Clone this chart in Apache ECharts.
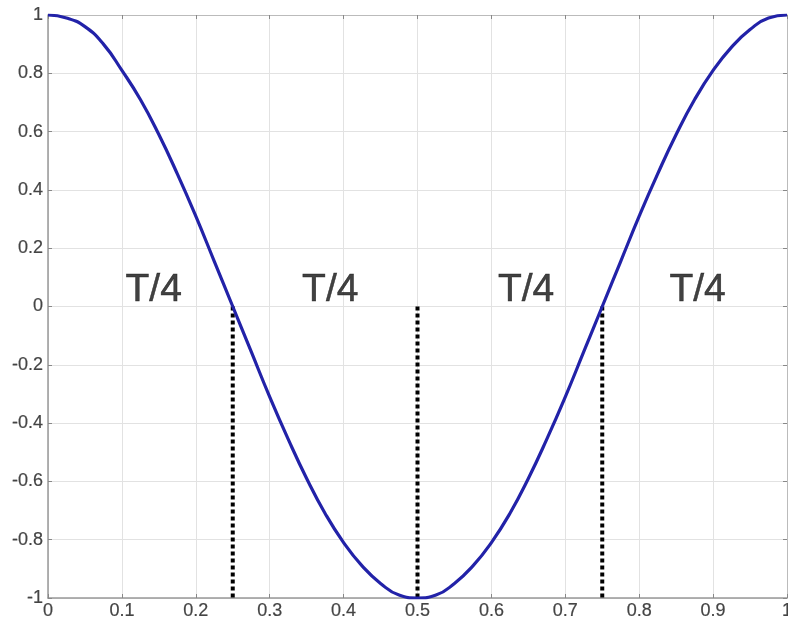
<!DOCTYPE html>
<html>
<head>
<meta charset="utf-8">
<style>
  html, body { margin: 0; padding: 0; background: #fff; }
  #chart { width: 788px; height: 623px; }
</style>
<script src="https://cdn.jsdelivr.net/npm/echarts@6/dist/echarts.min.js"></script>
</head>
<body>
<div id="chart"></div>
<script>
var xs = [0, 0.025, 0.05, 0.075, 0.1, 0.125, 0.15, 0.175, 0.2, 0.225, 0.25,
          0.275, 0.3, 0.325, 0.35, 0.375, 0.4, 0.425, 0.45, 0.475, 0.5,
          0.525, 0.55, 0.575, 0.6, 0.625, 0.65, 0.675, 0.7, 0.725, 0.75,
          0.775, 0.8, 0.825, 0.85, 0.875, 0.9, 0.925, 0.95, 0.975, 1];
var ys = [1, 0.99, 0.96, 0.9, 0.81, 0.71, 0.59, 0.455, 0.31, 0.155, 0,
          -0.155, -0.31, -0.455, -0.59, -0.71, -0.81, -0.89, -0.95, -0.99, -1,
          -0.99, -0.95, -0.89, -0.81, -0.71, -0.59, -0.455, -0.31, -0.155, 0,
          0.155, 0.31, 0.455, 0.59, 0.71, 0.81, 0.89, 0.95, 0.99, 1];
// dotted markers of the quarter periods
var markX = [0.25, 0.5, 0.75];
var markTop = 0, markBottom = -1;
// "T/4" captions
var labelX = [0.143, 0.382, 0.647, 0.879];
var labelY = [0.056, 0.056, 0.056, 0.056];
var labelText = "T/4";

var chart = echarts.init(document.getElementById("chart"));

var curve = xs.map(function(x, i) { return [x, ys[i]]; });
var series = [{
    type: "line",
    data: curve,
    smooth: true,
    showSymbol: false,
    lineStyle: { color: "#2222a8", width: 3.2 },
    z: 5
}];
markX.forEach(function(x) {
    series.push({
        type: "line",
        data: [[x, markTop], [x, markBottom]],
        showSymbol: false,
        lineStyle: { color: "#000", width: 4, type: [4, 3] },
        z: 4
    });
});
series.push({
    type: "scatter",
    symbolSize: 0,
    data: labelX.map(function(x, i) { return [x, labelY[i]]; }),
    label: {
        show: true,
        position: "inside",
        formatter: labelText,
        fontFamily: "Liberation Sans, Arial",
        fontSize: 39,
        color: "#111",
        textBorderColor: "#111",
        textBorderWidth: 0.5
    },
    z: 6
});

var tickStyle = { inside: true, length: 4, lineStyle: { color: "#888" } };
var gridLine = { show: true, lineStyle: { color: "#e2e2e2", width: 1 } };
var axisText = {
    color: "#444", fontFamily: "Liberation Sans, Arial", fontSize: 18,
    textBorderColor: "#444", textBorderWidth: 0.2
};

chart.setOption({
    animation: false,
    grid: { left: 48, right: 1, top: 15, bottom: 25, containLabel: false, outerBoundsMode: "none" },
    xAxis: [{
        type: "value", min: 0, max: 1, interval: 0.1,
        axisLine: { onZero: false, lineStyle: { color: "#999", width: 1.5 } },
        axisTick: tickStyle,
        splitLine: gridLine,
        axisLabel: Object.assign({ margin: 4, formatter: function(v) { return +v.toFixed(1) + ""; } }, axisText)
    }, {
        type: "value", min: 0, max: 1, interval: 0.1, position: "top",
        axisLine: { show: true, onZero: false, lineStyle: { color: "#bbb", width: 1 } },
        axisTick: tickStyle, axisLabel: { show: false }, splitLine: { show: false }
    }],
    yAxis: [{
        type: "value", min: -1, max: 1, interval: 0.2,
        axisLine: { show: true, onZero: false, lineStyle: { color: "#999", width: 1.5 } },
        axisTick: tickStyle,
        splitLine: gridLine,
        axisLabel: Object.assign({ margin: 5, formatter: function(v) { return +v.toFixed(1) + ""; } }, axisText)
    }, {
        type: "value", min: -1, max: 1, interval: 0.2, position: "right",
        axisLine: { show: true, onZero: false, lineStyle: { color: "#bbb", width: 1 } },
        axisTick: tickStyle, axisLabel: { show: false }, splitLine: { show: false }
    }],
    series: series
});
</script>
</body>
</html>
